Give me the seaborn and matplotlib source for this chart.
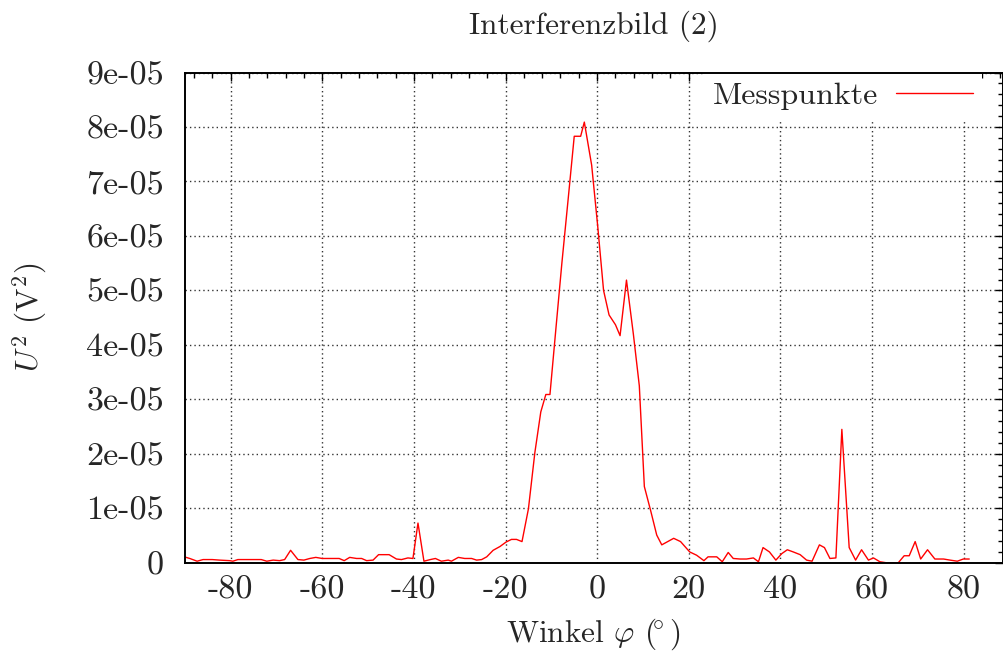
import numpy as np
import pandas as pd
import matplotlib
matplotlib.use('Agg')
import matplotlib.pyplot as plt
from matplotlib.ticker import MultipleLocator, FuncFormatter
import seaborn as sns

winkel = [-90.1, -88.9, -87.3, -86.0, -84.0, -82.4, -80.2, -79.5, -78.4, -73.3,
          -72.1, -70.7, -69.3, -68.2, -66.9, -65.3, -64.0, -62.7, -61.4, -60.0,
          -56.3, -55.2, -54.0, -52.5, -51.4, -50.3, -48.9, -47.7, -45.4, -43.8,
          -42.7, -41.3, -40.2, -39.1, -37.8, -36.4, -35.3, -34.0, -32.5, -31.8,
          -30.3, -28.9, -27.4, -26.3, -25.2, -24.1, -22.7, -21.2, -19.9, -18.7,
          -17.6, -16.4, -15.0, -13.6, -12.3, -11.2, -10.3, -9.0, -7.7, -6.3,
          -5.0, -3.6, -2.8, -1.2, 0.1, 1.4, 2.6, 4.0, 5.0, 6.4,
          7.9, 9.2, 10.3, 11.7, 13.0, 14.1, 15.4, 16.7, 18.2, 20.2,
          21.7, 23.3, 24.2, 26.1, 27.3, 28.6, 29.7, 31.2, 32.6, 34.1,
          35.2, 36.2, 37.6, 39.0, 40.3, 41.5, 42.8, 44.3, 45.7, 46.9,
          48.5, 49.6, 50.8, 52.1, 53.4, 55.0, 56.4, 57.7, 59.2, 60.3,
          61.7, 63.2, 65.7, 67.0, 68.1, 69.4, 70.6, 72.1, 73.7, 75.6,
          77.0, 78.6, 79.9, 81.2]
u2_e5 = [0.11, 0.08, 0.03, 0.06, 0.06, 0.05, 0.04, 0.03, 0.06, 0.06,
         0.03, 0.05, 0.04, 0.06, 0.23, 0.06, 0.05, 0.08, 0.10, 0.08,
         0.08, 0.04, 0.10, 0.08, 0.08, 0.04, 0.05, 0.15, 0.15, 0.07,
         0.06, 0.09, 0.08, 0.73, 0.03, 0.06, 0.08, 0.03, 0.05, 0.03,
         0.10, 0.08, 0.08, 0.05, 0.06, 0.11, 0.23, 0.30, 0.38, 0.43,
         0.43, 0.39, 0.99, 2.02, 2.77, 3.09, 3.09, 4.30, 5.50, 6.70,
         7.83, 7.83, 8.09, 7.30, 6.20, 5.00, 4.55, 4.37, 4.17, 5.19,
         4.20, 3.25, 1.40, 0.95, 0.51, 0.33, 0.39, 0.45, 0.39, 0.20,
         0.14, 0.04, 0.11, 0.11, 0.02, 0.19, 0.08, 0.07, 0.07, 0.09,
         0.02, 0.28, 0.20, 0.05, 0.17, 0.24, 0.20, 0.15, 0.05, 0.03,
         0.33, 0.28, 0.08, 0.09, 2.45, 0.28, 0.05, 0.24, 0.05, 0.09,
         0.02, 0.00, 0.00, 0.13, 0.13, 0.39, 0.07, 0.24, 0.07, 0.07,
         0.05, 0.03, 0.07, 0.07]

df = pd.DataFrame({'phi': winkel, 'U2': np.array(u2_e5) * 1e-5})

# ── Stil (gnuplot/epslatex-Look) ─────────────────────────────────────
sns.set_style('white')
plt.rcParams['font.family'] = ['cmr10', 'DejaVu Serif']
plt.rcParams['mathtext.fontset'] = 'cm'
plt.rcParams['axes.unicode_minus'] = False
plt.rcParams['font.size'] = 22

fig = plt.figure(figsize=(10.04, 6.54), dpi=100)
ax = fig.add_axes([0.184, 0.1394, 0.8147, 0.7497])

sns.lineplot(data=df, x='phi', y='U2', ax=ax, color='red', lw=1.0,
             estimator=None, sort=False, label='Messpunkte')

ax.set_xlim(-90, 88.5)
ax.set_ylim(0, 9e-5)
ax.xaxis.set_major_locator(MultipleLocator(20))
ax.xaxis.set_minor_locator(MultipleLocator(4))
ax.yaxis.set_major_locator(MultipleLocator(1e-5))
ax.yaxis.set_minor_locator(MultipleLocator(2e-6))
ax.xaxis.set_major_formatter(FuncFormatter(lambda v, p: f'{v:.0f}'))
ax.yaxis.set_major_formatter(FuncFormatter(lambda v, p: '0' if abs(v) < 1e-12 else f'{v:.0e}'))

ax.tick_params(which='both', direction='in', top=True, right=True, width=1.0, color='black')
ax.tick_params(which='major', length=6)
ax.tick_params(which='minor', length=3.5)
ax.tick_params(axis='x', which='major', pad=9, labelsize=24.5)
ax.tick_params(axis='y', which='major', pad=15, labelsize=24.5)
for s in ax.spines.values():
    s.set_linewidth(1.4)
    s.set_color('black')

ax.grid(True, which='major', color='#333333', linestyle=(0, (1, 2.2)), lw=1.0)
ax.set_axisbelow(True)

ax.set_title('Interferenzbild (2)', fontsize=22.5, pad=28)
ax.set_xlabel(r'Winkel $\varphi$ ($\!\!^\circ$)', fontsize=22.5, labelpad=9)
ax.set_ylabel(r'$U^2$ (V$^2$)', fontsize=22.5, labelpad=27)

leg = ax.legend(loc='upper right', bbox_to_anchor=(0.975, 1.0), markerfirst=False,
                frameon=True, fancybox=False, framealpha=1.0, edgecolor='white',
                handlelength=2.4, handletextpad=0.55, borderpad=0.3, borderaxespad=0.0,
                fontsize=23)
leg.get_frame().set_linewidth(0)
leg.set_zorder(2.3)

fig.savefig('out.png', dpi=100)
